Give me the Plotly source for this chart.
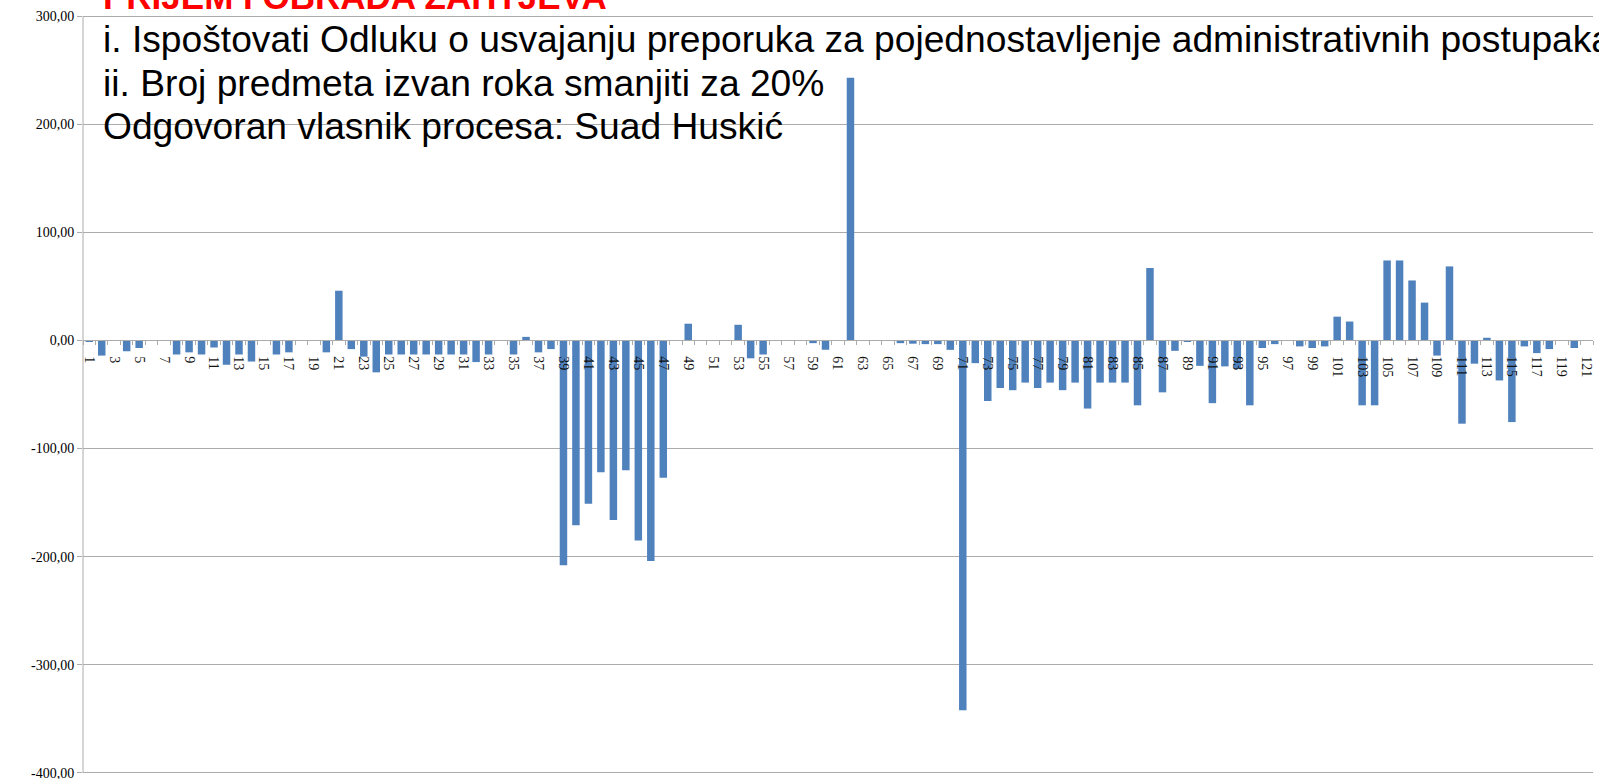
import plotly.graph_objects as go

categories = list(range(1, 122))
values = [
    -1, -14, 0, -10, -7, 0, 0, -13, -11, -13,
    -6.5, -22.5, -13, -19.5, 0, -13, -11, 0, 0, -11,
    46, -8, -15, -29.5, -13, -13, -13, -13, -13, -13,
    -13, -20, -13, 0, -13, 3.3, -11, -8, -208, -171,
    -151, -122, -166, -120, -185, -204, -127, 0, 15.5, 0,
    0, 0, 14.5, -16.5, -13, 0, 0, 0, -2.5, -8.6,
    0, 243, -0.5, 0, 0, -2.5, -3, -3.4, -3.4, -8.7,
    -342, -21, -56, -44, -46, -39, -44, -39, -46, -39,
    -63, -39, -39, -39, -60, 67, -48, -9.6, -1, -23.5,
    -58, -24, -26.5, -60, -7, -3.4, 0, -5.5, -7, -5.5,
    22, 17.5, -60, -60, 74, 74, 55.5, 35, -14, 68.5,
    -77, -21.5, 2.5, -37, -75.5, -5.5, -11.7, -8, 0, -7,
    0,
]
y_tick_values = [300, 200, 100, 0, -100, -200, -300, -400]
y_tick_labels = ["300,00", "200,00", "100,00", "0,00", "-100,00", "-200,00", "-300,00", "-400,00"]
x_tick_values = categories[::2]
x_tick_labels = [str(c) for c in x_tick_values]

title_text = "PRIJEM I OBRADA ZAHTJEVA"
text_lines = [
    "i. Ispoštovati Odluku o usvajanju preporuka za pojednostavljenje administrativnih postupaka",
    "ii. Broj predmeta izvan roka smanjiti za 20%",
    "Odgovoran vlasnik procesa: Suad Huskić",
]

GRID = "#ababab"
BAR = "#4f81bd"

Y_MIN, Y_MAX = -402, 302

fig = go.Figure()
fig.add_trace(go.Bar(x=categories, y=values, marker=dict(color=BAR, line=dict(width=0)),
                     width=0.6, showlegend=False))

fig.update_layout(
    width=1599, height=779,
    margin=dict(l=83, r=6, t=13.8, b=3.8, autoexpand=False),
    paper_bgcolor="white", plot_bgcolor="white",
    bargap=0.4,
    xaxis=dict(
        range=[0.5, 121.5], anchor="free", position=(0 - Y_MIN) / (Y_MAX - Y_MIN),
        automargin=False,
        showgrid=False, zeroline=False,
        showline=True, linecolor=GRID, linewidth=1,
        tickmode="array", tickvals=x_tick_values, ticktext=x_tick_labels,
        tickangle=90, ticks="outside", ticklen=12, tickcolor="rgba(0,0,0,0)",
        tickfont=dict(family="Liberation Serif", size=14, color="#111"),
        minor=dict(tick0=0.5, dtick=1, ticks="outside", ticklen=4, tickcolor=GRID, showgrid=False),
        layer="above traces",
    ),
    yaxis=dict(
        range=[Y_MIN, Y_MAX], automargin=False,
        showgrid=True, gridcolor=GRID, gridwidth=1,
        zeroline=False, showline=False,
        tickmode="array", tickvals=y_tick_values, ticktext=y_tick_labels,
        ticks="outside", ticklen=5, tickcolor=GRID, ticklabeloverflow="allow",
        tickfont=dict(family="Liberation Serif", size=14, color="#000"),
    ),
)

# vertical value-axis line spanning the labelled range (-400 .. 300)
fig.add_shape(type="line", xref="paper", yref="y", x0=0, x1=0, y0=y_tick_values[-1], y1=y_tick_values[0],
              line=dict(color=GRID, width=1))

# paper-y for a given pixel row of the 779-high figure
plot_top, plot_h = 13.8, 779 - 13.8 - 3.8


def py(p):
    return 1 - (p - plot_top) / plot_h


fig.add_annotation(xref="paper", yref="paper", x=0.0119, y=py(-3.5), xanchor="left", yanchor="middle",
                   text="<b>" + title_text + "</b>", showarrow=False,
                   font=dict(family="Liberation Sans", size=35, color="#ff0000"))
line_px = [39.0, 82.5, 125.5]
for t, p in zip(text_lines, line_px):
    fig.add_annotation(xref="paper", yref="paper", x=0.0119, y=py(p), xanchor="left", yanchor="middle",
                       text=t, showarrow=False,
                       font=dict(family="Liberation Sans", size=37.2, color="#000000"))

fig.write_html("out.html", config={"displayModeBar": False},
               post_script="document.body.style.margin='0';document.body.style.overflow='hidden';")
